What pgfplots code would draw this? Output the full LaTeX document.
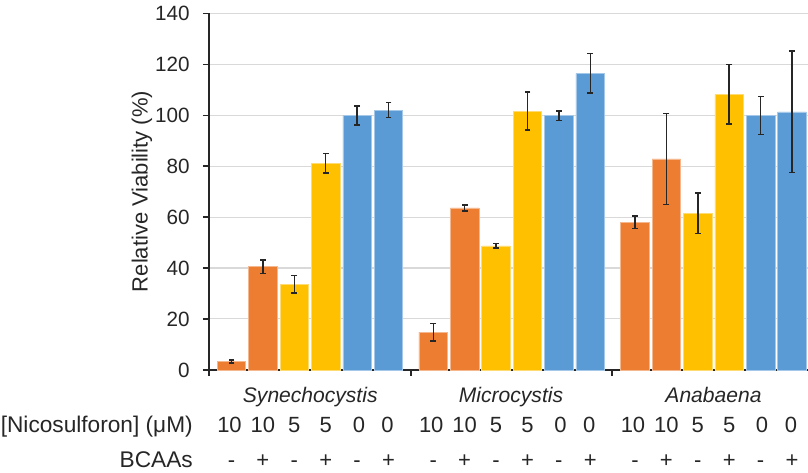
\documentclass[border=0pt]{standalone}
\usepackage{pgfplots}
\pgfplotsset{compat=1.18}
\usepackage{fontspec}
\setmainfont{Liberation Sans}
\definecolor{cOrange}{HTML}{ED7D31}
\definecolor{cYellow}{HTML}{FFC000}
\definecolor{cBlue}{HTML}{5B9BD5}
\definecolor{cGrid}{HTML}{D9D9D9}
\definecolor{cAxis}{HTML}{262626}
\newcommand{\lf}{\fontsize{16.5}{19}\selectfont}
\newcommand{\tf}{\fontsize{15.5}{18}\selectfont}
\newcommand{\lab}[3]{\node[anchor=base,font=\lf,text=cAxis] at (axis cs:#1,#2) {#3};}
\pgfplotsset{bars/.style={ybar, bar width=28.5, bar shift=0pt, line width=0.5pt}}
\begin{document}
\begin{tikzpicture}
\begin{axis}[
  scale only axis, width=449.25pt, height=267.5pt,
  xmin=209, xmax=808, ymin=0, ymax=140,
  clip=false,
  axis x line*=bottom, axis y line*=left,
  axis line style={cAxis, line width=1pt},
  ytick={0,20,...,140},
  xtick={209,411,612}, xticklabels={},
  tick align=outside, major tick length=4.5pt,
  tick style={cAxis, line width=0.9pt},
  ymajorgrids, grid style={cGrid, line width=0.8pt},
  /pgf/number format/assume math mode=true,
  ticklabel style={font=\tf, text=cAxis},
  yticklabel style={anchor=east, inner sep=0pt, xshift=-9.75pt},
]
\addplot[bars, fill=cOrange, draw=cOrange!55!white] coordinates {
  (231.5,3.3) (262.9,40.5) (433.25,14.8) (464.65,63.6) (635.0,58.0) (666.4,82.8)
};
\addplot[bars, fill=cYellow, draw=cYellow!55!white] coordinates {
  (294.3,33.6) (325.7,81.1) (496.05,48.7) (527.45,101.6) (697.8,61.5) (729.2,108.2)
};
\addplot[bars, fill=cBlue, draw=cBlue!55!white] coordinates {
  (357.1,99.8) (388.5,102.0) (558.85,99.8) (590.25,116.4) (760.6,99.8) (792.0,101.3)
};
% error bars: (x, mean-err) -- (x, mean+err)
\addplot[cAxis, line width=1.1pt, mark=-, mark size=2.2pt, mark options={solid, line width=1.1pt},
  unbounded coords=jump] coordinates {
  (231.5,2.7) (231.5,3.9) (231.5,nan)
  (262.9,37.9) (262.9,43.1) (262.9,nan)
  (433.25,11.3) (433.25,18.3) (433.25,nan)
  (464.65,62.4) (464.65,64.8) (464.65,nan)
  (635.0,55.6) (635.0,60.4) (635.0,nan)
  (666.4,64.9) (666.4,100.7) (666.4,nan)
  (294.3,30.1) (294.3,37.1) (294.3,nan)
  (325.7,77.3) (325.7,84.9) (325.7,nan)
  (496.05,47.8) (496.05,49.6) (496.05,nan)
  (527.45,94.1) (527.45,109.1) (527.45,nan)
  (697.8,53.6) (697.8,69.4) (697.8,nan)
  (729.2,96.6) (729.2,119.8) (729.2,nan)
  (357.1,96.1) (357.1,103.5) (357.1,nan)
  (388.5,99.1) (388.5,104.9) (388.5,nan)
  (558.85,98.0) (558.85,101.6) (558.85,nan)
  (590.25,108.7) (590.25,124.1) (590.25,nan)
  (760.6,92.3) (760.6,107.3) (760.6,nan)
  (792.0,77.4) (792.0,125.2)
};
% y label
\node[rotate=90, font=\lf, text=cAxis] at (axis cs:142,70.05) {Relative Viability (\%)};
% group labels
\node[anchor=base, font=\fontsize{15.8}{19}\selectfont\itshape, text=cAxis] at (axis cs:310.25,-12.95) {Synechocystis};
\node[anchor=base, font=\fontsize{15.8}{19}\selectfont\itshape, text=cAxis] at (axis cs:511,-12.95) {Microcystis};
\node[anchor=base, font=\fontsize{15.8}{19}\selectfont\itshape, text=cAxis] at (axis cs:713.5,-12.95) {Anabaena};
% row labels
\node[anchor=base east, font=\fontsize{17}{20}\selectfont, text=cAxis, inner sep=0pt] at (axis cs:193,-24.7) {[Nicosulforon] (μM)};
\node[anchor=base east, font=\fontsize{17}{20}\selectfont, text=cAxis, inner sep=0pt] at (axis cs:193,-38.3) {BCAAs};
% concentrations
\lab{229.5}{-24.7}{10}\lab{262.9}{-24.7}{10}\lab{294.3}{-24.7}{5}\lab{325.7}{-24.7}{5}\lab{359}{-24.7}{0}\lab{387.5}{-24.7}{0}
\lab{431.25}{-24.7}{10}\lab{464.65}{-24.7}{10}\lab{496.05}{-24.7}{5}\lab{527.45}{-24.7}{5}\lab{560.5}{-24.7}{0}\lab{589.25}{-24.7}{0}
\lab{633.0}{-24.7}{10}\lab{666.4}{-24.7}{10}\lab{697.8}{-24.7}{5}\lab{729.2}{-24.7}{5}\lab{762}{-24.7}{0}\lab{791.0}{-24.7}{0}
% BCAAs
\lab{231.5}{-38.3}{-}\lab{262.9}{-38.3}{+}\lab{294.3}{-38.3}{-}\lab{325.7}{-38.3}{+}\lab{357.1}{-38.3}{-}\lab{388.5}{-38.3}{+}
\lab{433.25}{-38.3}{-}\lab{464.65}{-38.3}{+}\lab{496.05}{-38.3}{-}\lab{527.45}{-38.3}{+}\lab{558.85}{-38.3}{-}\lab{590.25}{-38.3}{+}
\lab{635.0}{-38.3}{-}\lab{666.4}{-38.3}{+}\lab{697.8}{-38.3}{-}\lab{729.2}{-38.3}{+}\lab{760.6}{-38.3}{-}\lab{792.0}{-38.3}{+}
\coordinate (bl) at (axis cs:0,-40.4);
\coordinate (tr) at (axis cs:808,145.2);
\end{axis}
\pgfresetboundingbox
\path[use as bounding box] (bl) rectangle (tr);
\end{tikzpicture}
\end{document}
